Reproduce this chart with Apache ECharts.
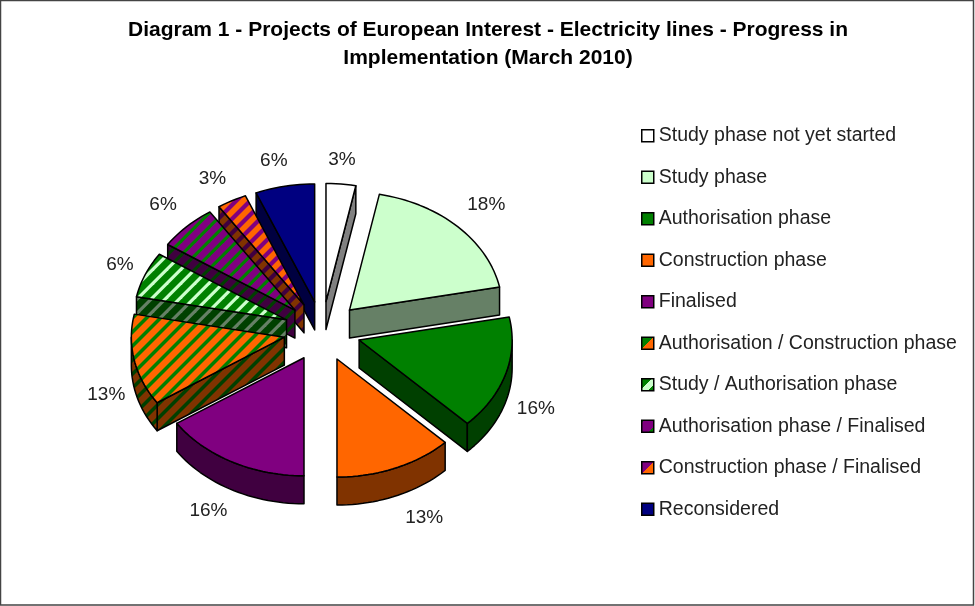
<!DOCTYPE html>
<html><head><meta charset="utf-8">
<style>html,body{margin:0;padding:0;background:#fff}#c{width:975px;height:606px}</style>
<script src="https://cdn.jsdelivr.net/npm/echarts@6/dist/echarts.min.js"></script>
</head><body><div id="c"></div>
<script>
const titleText = 'Diagram 1 - Projects of European Interest - Electricity lines - Progress in\nImplementation (March 2010)';
const categories = ['Study phase not yet started','Study phase','Authorisation phase','Construction phase','Finalised','Authorisation / Construction phase','Study / Authorisation phase','Authorisation phase / Finalised','Construction phase / Finalised','Reconsidered'];
const projectCounts = [1,6,5,4,5,4,2,2,1,2];
const percentLabels = ['3%','18%','16%','13%','16%','13%','6%','6%','3%','6%'];

// styling and layout, kept apart from the data
const baseColors = ['#ffffff','#ccffcc','#008000','#ff6600','#800080','#ff6600','#008000','#800080','#ff6600','#000080'];
const stripeColors = [null,null,null,null,null,'#008000','#ccffcc','#008000','#800080',null];
const stripeWidths = [0,0,0,0,0,5,4.5,4.5,6,0];
const drawOrder = [9,0,8,7,6,5,1,2,4,3];
const labelNudge = [[-2,-1],[7,-5],[1,0],[17,0],[-9,0],[2,2],[3,-1],[-2,-5],[-5,-1],[-5,-2]];
const CX=322.2, CY=331.3, EX=38.6, EY=30, RX=153, RY=118, DEPTH=28, LABEL_K=1.2;

const total = projectCounts.reduce((a,b)=>a+b,0);
const starts = []; let acc = 0;
projectCounts.forEach(v=>{starts.push(acc); acc+=v;});
const rad = d=>d*Math.PI/180;
function darken(hex){
  const n=parseInt(hex.slice(1),16);
  const f=c=>Math.round(c/2).toString(16).padStart(2,'0');
  return '#'+f(n>>16&255)+f(n>>8&255)+f(n&255);
}
function stripeTile(a,b,w){
  const P=14, cv=document.createElement('canvas'); cv.width=P; cv.height=P;
  const g=cv.getContext('2d'); g.fillStyle=a; g.fillRect(0,0,P,P); g.fillStyle=b;
  for(let k=-1;k<=2;k++){
    const x=k*P;
    g.beginPath(); g.moveTo(x,P); g.lineTo(x+P,0); g.lineTo(x+P+w,0); g.lineTo(x+w,P); g.closePath(); g.fill();
  }
  return {image:cv,repeat:'repeat'};
}
const topFill = baseColors.map((c,i)=>stripeColors[i]?stripeTile(c,stripeColors[i],stripeWidths[i]):c);
const wallFill = baseColors.map((c,i)=>stripeColors[i]?stripeTile(darken(c),darken(stripeColors[i]),stripeWidths[i]):darken(c));
function hard(stops){
  const out=[]; stops.forEach((s,i)=>{
    out.push({offset:i?stops[i-1][0]:0,color:s[1]}); out.push({offset:s[0],color:s[1]});
  });
  return {type:'linear',x:0,y:0,x2:1,y2:1,colorStops:out};
}
const legendFill = [
  baseColors[0],baseColors[1],baseColors[2],baseColors[3],baseColors[4],
  hard([[.5,'#008000'],[1,'#ff6600']]),
  hard([[.42,'#008000'],[.72,'#ccffcc'],[1,'#008000']]),
  hard([[.15,'#008000'],[.75,'#800080'],[1,'#008000']]),
  hard([[.5,'#800080'],[1,'#ff6600']]),
  baseColors[9]
];

function renderSlice(idx){
  return function(params,api){
    const v=api.value(0), s=api.value(1);
    const a0=s/total*360, a1=(s+v)/total*360, mid=(a0+a1)/2;
    const ax=CX+EX*Math.sin(rad(mid)), ay=CY-EY*Math.cos(rad(mid));
    const pt=(t,d=0)=>[ax+RX*Math.sin(rad(t)), ay-RY*Math.cos(rad(t))+d];
    const arc=(from,to,d=0)=>{const n=Math.max(2,Math.ceil(Math.abs(to-from)/2)),o=[];for(let i=0;i<=n;i++)o.push(pt(from+(to-from)*i/n,d));return o;};
    const line={stroke:'#000',lineWidth:1.5,lineJoin:'round'};
    const kids=[];
    const poly=(points,fill)=>kids.push({type:'polygon',shape:{points},style:Object.assign({fill},line)});
    const wall=wallFill[idx], top=topFill[idx];
    const radial=t=>{const p=pt(t);poly([[ax,ay],p,[p[0],p[1]+DEPTH],[ax,ay+DEPTH]],wall);};
    if(Math.sin(rad(a0))<-1e-6) radial(a0);
    if(Math.sin(rad(a1))>1e-6) radial(a1);
    const w0=Math.max(a0,90), w1=Math.min(a1,270);
    if(w1>w0) poly(arc(w0,w1).concat(arc(w1,w0,DEPTH)),wall);
    poly([[ax,ay]].concat(arc(a0,a1)),top);
    const south=-Math.cos(rad(mid))>0?DEPTH:0;
    const n=labelNudge[idx];
    kids.push({type:'text',z2:50,style:{
      text:percentLabels[idx],
      x:ax+LABEL_K*RX*Math.sin(rad(mid))+n[0],
      y:ay-LABEL_K*RY*Math.cos(rad(mid))+south+n[1],
      fill:'#222',font:'19px "Liberation Sans", Arial, sans-serif',align:'center',verticalAlign:'middle'}});
    return {type:'group',children:kids};
  };
}

const series = categories.map((name,i)=>({
  name, type:'custom', coordinateSystem:'none',
  z:2+drawOrder.indexOf(i),
  clip:false, animation:false, silent:true,
  itemStyle:{color:baseColors[i]},
  data:[[projectCounts[i],starts[i]]],
  encode:{value:[0,1]},
  renderItem:renderSlice(i)
}));

const chart = echarts.init(document.getElementById('c'),null,{renderer:'canvas'});
chart.setOption({
  animation:false,
  backgroundColor:'#fff',
  title:{text:titleText,left:483,top:11,textAlign:'center',
    textStyle:{fontFamily:'"Liberation Sans", Arial, sans-serif',fontWeight:'bold',fontSize:21,lineHeight:28,color:'#000'}},
  legend:{orient:'vertical',left:636,top:120,itemWidth:12,itemHeight:12,itemGap:20,selectedMode:false,icon:'rect',
    textStyle:{fontFamily:'"Liberation Sans", Arial, sans-serif',fontSize:19.5,color:'#222',padding:[0,0,0,0],lineHeight:21.5},
    data:categories.map((name,i)=>({name,icon:'rect',itemStyle:{color:legendFill[i],borderColor:'#000',borderWidth:1.5,decal:'none'}}))},
  graphic:[{type:'rect',silent:true,z:100,shape:{x:0.5,y:0.5,width:973,height:604.5},style:{fill:'none',stroke:'#444',lineWidth:1.5}}],
  series
});
</script></body></html>
